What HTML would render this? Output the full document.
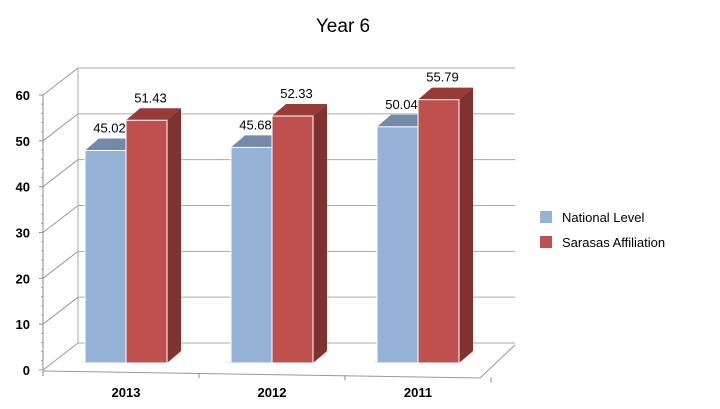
<!DOCTYPE html>
<html><head><meta charset="utf-8"><style>
body{margin:0;background:#fff;font-family:"Liberation Sans",Arial,sans-serif}
svg{display:block}
</style></head><body>
<svg width="720" height="409" viewBox="0 0 720 409">
<text x="343" y="32" font-size="19" text-anchor="middle">Year 6</text>
<g id="grid"></g>
<g id="axis"></g>
<g id="bars"></g>
<g id="xl"></g>
<g>
<g><rect x="540" y="211" width="12" height="12" fill="#95B3D7"/><text x="562" y="222" font-size="13">National Level</text></g>
<g><rect x="540" y="236" width="12" height="12" fill="#C0504D"/><text x="562" y="247" font-size="13">Sarasas Affiliation</text></g>
</g>
</svg>
<script>
const categories=["2013","2012","2011"];
const national=[45.02,45.68,50.04];
const sarasas=[51.43,52.33,55.79];
const ticks=[0,10,20,30,40,50,60];
const NS="http://www.w3.org/2000/svg";
function mk(t,a,p){const e=document.createElementNS(NS,t);for(const k in a)e.setAttribute(k,a[k]);p.appendChild(e);return e;}
const fy=v=>370-v*275/60; // front axis
const by=v=>343-v*275/60; // back wall
const barY=v=>363-v*4.72;
const grid=document.getElementById('grid'),axis=document.getElementById('axis');
ticks.forEach(t=>{
 const g=mk('g',{},grid);
 
 
 mk('line',{x1:43,y1:fy(t),x2:78,y2:by(t),stroke:'#999'},g);
 mk('line',{x1:78,y1:by(t),x2:515,y2:by(t),stroke:'#aaa'},g);
 const tx=mk('text',{x:30,y:fy(t)+5,'font-size':13,'font-weight':'bold','text-anchor':'end'},axis);
 tx.textContent=t;
 
 
 mk('line',{x1:39,y1:fy(t),x2:43,y2:fy(t),stroke:'#888'},axis);
});
for(let v=0;v<60;v+=2){mk('line',{x1:41,y1:fy(v),x2:43,y2:fy(v),stroke:'#aaa'},axis);}
mk('line',{x1:43,y1:fy(0),x2:43,y2:fy(60),stroke:'#888'},axis);
mk('line',{x1:78,y1:by(0),x2:78,y2:by(60),stroke:'#aaa'},axis);
mk('line',{x1:43,y1:371,x2:480,y2:378,stroke:'#999'},axis);
mk('line',{x1:480,y1:378,x2:515,y2:345,stroke:'#999'},axis);
mk('line',{x1:43,y1:371,x2:43,y2:376,stroke:'#888'},axis);
const bars=document.getElementById('bars'),xl=document.getElementById('xl');
function bar(x,v,front,top,side,name){
 const g=mk('g',{},bars);
 
 
 const y=barY(v),w=41,d=14,h=12;
 mk('polygon',{points:`${x},${y} ${x+d},${y-h} ${x+w+d},${y-h} ${x+w},${y}`,fill:top},g);
 mk('polygon',{points:`${x+w},${y} ${x+w+d},${y-h} ${x+w+d},${363-h} ${x+w},363`,fill:side},g);
 mk('rect',{x:x,y:y,width:w,height:363-y,fill:front,stroke:'#fff','stroke-width':1},g);
 const t=mk('text',{x:x+w/2+4,y:y-18,'font-size':13,'text-anchor':'middle'},g);
 t.textContent=v.toFixed(2);
}
categories.forEach((c,i)=>{
 const x0=85+i*146;
 mk('polygon',{points:`${x0-4},363 ${x0+82},363 ${x0+98},352 ${x0+20},352`,fill:'#ccc',opacity:0.5},bars);
 bar(x0,national[i],'#95B3D7','#7389A8','#7389A8','bar-national-'+c);
 bar(x0+41,sarasas[i],'#C0504D','#963B38','#7F3230','bar-sarasas-'+c);
 const t=mk('text',{x:x0+41,y:397,'font-size':13,'font-weight':'bold','text-anchor':'middle'},xl);
 t.textContent=c;
 
 
 mk('line',{x1:x0+114,y1:373+i*2.3,x2:x0+114,y2:378+i*2.3,stroke:'#888'},axis);
});
</script>
</body></html>
